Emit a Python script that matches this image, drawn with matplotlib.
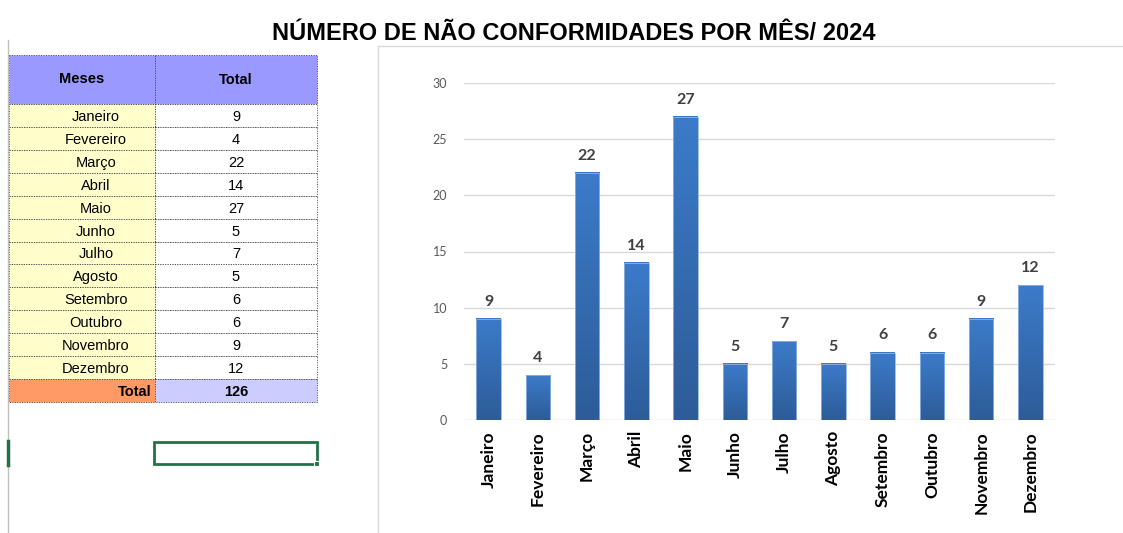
import matplotlib.pyplot as plt
import numpy as np
from matplotlib.colors import LinearSegmentedColormap

# monthly non-conformity counts, 2024
meses = ["Janeiro", "Fevereiro", "Março", "Abril", "Maio", "Junho",
         "Julho", "Agosto", "Setembro", "Outubro", "Novembro", "Dezembro"]
totais = [9, 4, 22, 14, 27, 5, 7, 5, 6, 6, 9, 12]
titulo = "NÚMERO DE NÃO CONFORMIDADES POR MÊS/ 2024"

W, H = 1123, 533
fig = plt.figure(figsize=(W / 100, H / 100), dpi=100)
fig.patch.set_facecolor("white")

# overlay axes in pixel units for the sheet part (table, frame, title)
ov = fig.add_axes([0, 0, 1, 1])
ov.set_xlim(0, W)
ov.set_ylim(H, 0)
ov.axis("off")

# sheet left edge and chart frame
ov.plot([8, 8], [40, H], color="#BFBFBF", lw=1)
ov.plot([378, 378, W], [H, 46, 46], color="#D9D9D9", lw=1)

ov.text(574, 33, titulo, ha="center", va="center", fontsize=17,
        fontweight="bold", family=["Liberation Sans Narrow", "Liberation Sans"],
        color="black")

# table
x0, xm, x1 = 9, 155, 317
y_head, y_rows = 55, 104
rh = (379 - 104) / 12
fnt = ["Liberation Sans", "DejaVu Sans"]

def cell(xa, xb, ya, yb, fc):
    ov.add_patch(plt.Rectangle((xa, ya), xb - xa, yb - ya, facecolor=fc,
                               edgecolor="#444444", lw=0.7, ls=(0, (1, 1.5))))

cell(x0, xm, y_head, y_rows, "#9999FF")
cell(xm, x1, y_head, y_rows, "#9999FF")
ov.text((x0 + xm) / 2, 79, "Meses", ha="center", va="center", fontsize=10.5,
        fontweight="bold", family=fnt)
ov.text((xm + x1) / 2, 80, "Total", ha="center", va="center", fontsize=10.5,
        fontweight="bold", family=fnt)

for i, (m, v) in enumerate(zip(meses, totais)):
    ya = y_rows + i * rh
    cell(x0, xm, ya, ya + rh, "#FFFFCC")
    cell(xm, x1, ya, ya + rh, "white")
    ov.text((x0 + xm) / 2 + 14, ya + rh / 2 + 1.5, m, ha="center",
            va="center", fontsize=10.5, family=fnt)
    ov.text((xm + x1) / 2, ya + rh / 2 + 1.5, str(v), ha="center",
            va="center", fontsize=10.5, family=fnt)

ya = y_rows + 12 * rh
cell(x0, xm, ya, ya + rh, "#FF9966")
cell(xm, x1, ya, ya + rh, "#CCCCFF")
ov.text(xm - 3, ya + rh / 2 + 1.5, "Total", ha="right", va="center",
        fontsize=10.5, fontweight="bold", family=fnt)
ov.text((xm + x1) / 2, ya + rh / 2 + 1.5, str(sum(totais)), ha="center",
        va="center", fontsize=10.5, fontweight="bold", family=fnt)

# active cell selection
ov.add_patch(plt.Rectangle((154, 442), 163, 22, facecolor="none",
                           edgecolor="#217346", lw=2))
ov.add_patch(plt.Rectangle((314, 461), 5, 5, facecolor="#217346",
                           edgecolor="white", lw=0.8))
ov.plot([8, 8], [441, 465], color="#217346", lw=2.5)

# bar chart
ax = fig.add_axes([464 / W, (H - 420) / H, 591 / W, 337 / H])
ax.set_facecolor("none")
x = np.arange(len(meses))
ax.set_yticks(range(0, 31, 5))
ax.grid(axis="y", color="#D9D9D9", lw=1)
ax.set_axisbelow(True)
for s in ax.spines.values():
    s.set_visible(False)
ax.tick_params(length=0)
ax.tick_params(axis="y", labelsize=9, labelcolor="#595959", pad=12)
ax.tick_params(axis="x", pad=8)
ax.set_xticks(x)
ax.set_xticklabels(meses, rotation=90, fontsize=12.5, fontweight="bold",
                   family=["Lato", "DejaVu Sans"])
for lb in ax.get_yticklabels():
    lb.set_family(["Lato", "DejaVu Sans"])

cmap = LinearSegmentedColormap.from_list("barra", ["#2D5C98", "#3C7BCA"])
grad = np.linspace(0, 1, 256).reshape(-1, 1)
bw = 0.5
ax.bar(x, totais, width=bw, color="none", edgecolor="#8FB4E3",
       lw=0.6, zorder=3)
for xi, v in zip(x, totais):
    ax.imshow(grad, extent=(xi - bw / 2, xi + bw / 2, 0, v), origin="lower",
              cmap=cmap, aspect="auto", zorder=2)
    ax.text(xi, v + 0.9, str(v), ha="center", va="bottom", fontsize=11.5,
            fontweight="bold", color="#404040", family=["Lato", "DejaVu Sans"])
ax.set_xlim(-0.5, len(meses) - 0.5)
ax.set_ylim(0, 30)

fig.savefig("out.png", dpi=100)
